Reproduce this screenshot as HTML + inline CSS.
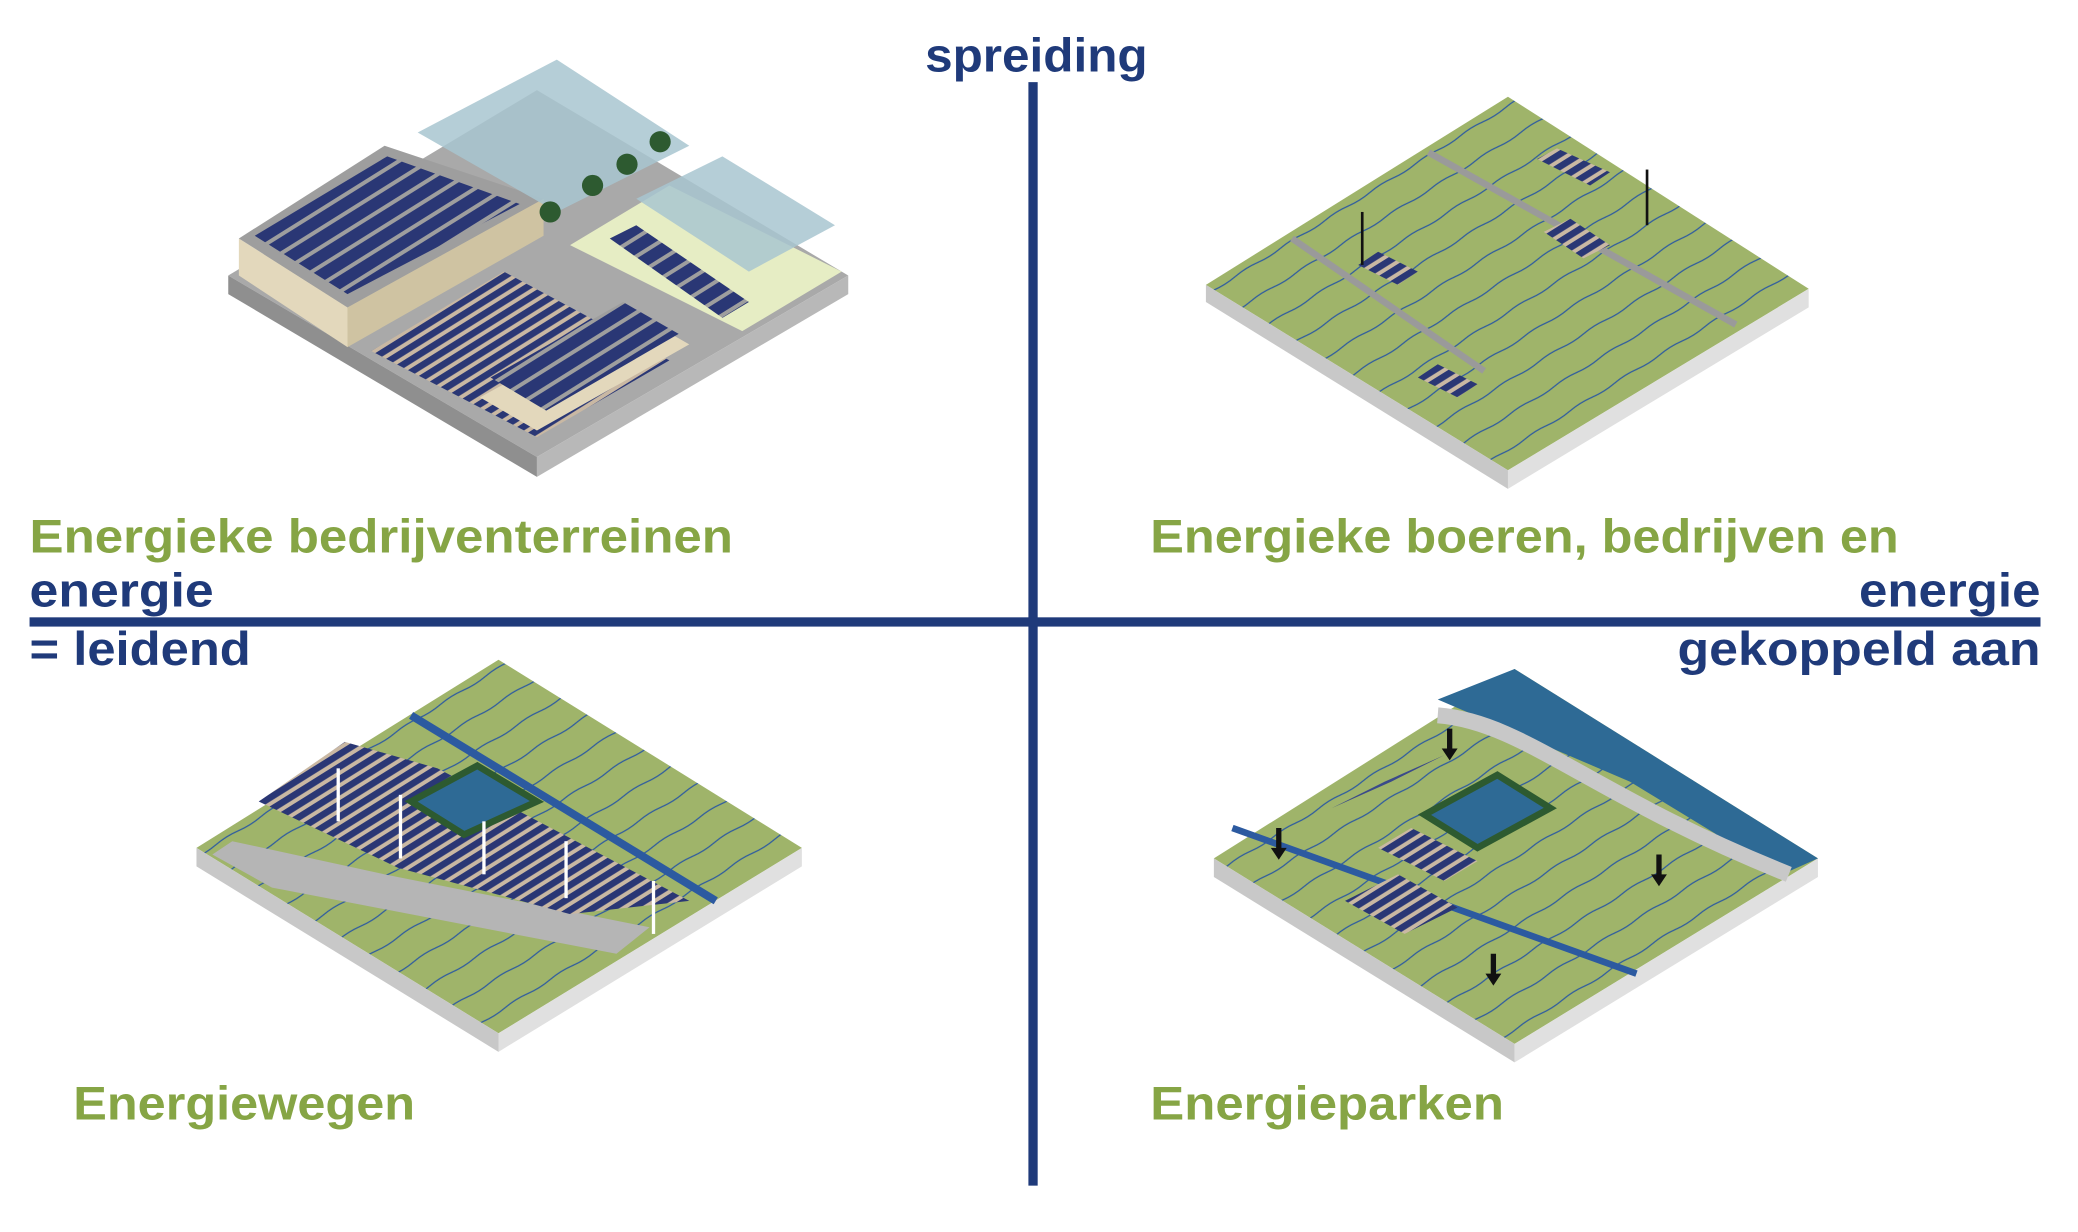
<!DOCTYPE html>
<html><head><meta charset="utf-8"><style>
html,body{margin:0;padding:0;background:#fff;}
svg{display:block}
text{font-family:"Liberation Sans",sans-serif;font-weight:bold;}
</style></head><body>
<svg width="2078" height="1232" viewBox="0 0 1568 930" xmlns="http://www.w3.org/2000/svg">
<defs>
<pattern id="fields" width="40" height="22" patternUnits="userSpaceOnUse" patternTransform="rotate(-32)">
<rect width="40" height="22" fill="#9fb46a"/>
<path d="M0 11 Q10 9.5 20 11 T40 11" stroke="#2c5aa0" stroke-width="1" fill="none"/>
</pattern>
<pattern id="solar" width="12" height="8" patternUnits="userSpaceOnUse" patternTransform="rotate(-32)">
<rect width="12" height="8" fill="#c9b8a3"/>
<rect width="12" height="5" fill="#2a3775"/>
</pattern>
<pattern id="roof" width="12" height="12" patternUnits="userSpaceOnUse" patternTransform="rotate(-32)">
<rect width="12" height="12" fill="#9e9e9e"/>
<rect width="12" height="9" fill="#2a3775"/>
</pattern>
</defs>

<rect x="776" y="62" width="7" height="833" fill="#1f3a7a"/>
<rect x="22" y="466" width="1518" height="7" fill="#1f3a7a"/>

<!-- Top-left -->
<polygon points="172,208 405,345 640,208 405,68" fill="#a9a9a9"/>
<polygon points="172,208 405,345 405,360 172,222" fill="#8f8f8f"/>
<polygon points="405,345 640,208 640,222 405,360" fill="#b8b8b8"/>
<polygon points="180,180 262,232 262,262 180,208" fill="#e3d8bc"/>
<polygon points="262,232 410,150 410,178 262,262" fill="#cfc3a2"/>
<polygon points="180,180 290,110 410,150 262,232" fill="#9e9e9e"/>
<polygon points="192,178 292,118 392,154 262,222" fill="url(#roof)"/>
<polygon points="280,265 405,330 505,272 380,205" fill="url(#solar)"/>
<polygon points="362,300 405,325 520,260 478,236" fill="#e3d8bc"/>
<polygon points="370,285 412,310 512,252 470,228" fill="url(#roof)"/>
<polygon points="315,100 420,160 520,110 420,45" fill="#a8c6d0" opacity="0.85"/>
<polygon points="430,185 560,250 635,205 505,140" fill="#e6edc4"/>
<polygon points="480,150 565,205 630,170 545,118" fill="#a8c6d0" opacity="0.85"/>
<polygon points="460,180 545,240 565,228 480,170" fill="url(#roof)"/>
<circle cx="415" cy="160" r="8" fill="#2d5a30"/><circle cx="447" cy="140" r="8" fill="#2d5a30"/>
<circle cx="473" cy="124" r="8" fill="#2d5a30"/><circle cx="498" cy="107" r="8" fill="#2d5a30"/>

<!-- Top-right -->
<polygon points="910,215 1138,355 1365,218 1138,73" fill="url(#fields)"/>
<polygon points="910,215 1138,355 1138,369 910,228" fill="#c8c8c8"/>
<polygon points="1138,355 1365,218 1365,232 1138,369" fill="#e0e0e0"/>
<path d="M975,180 L1120,280" stroke="#9a9a9a" stroke-width="5"/>
<path d="M1078,115 L1310,245" stroke="#9a9a9a" stroke-width="5"/>
<polygon points="1160,120 1200,140 1215,130 1175,112" fill="url(#solar)"/>
<polygon points="1165,175 1195,195 1215,185 1185,165" fill="url(#solar)"/>
<polygon points="1025,200 1055,215 1070,205 1040,190" fill="url(#solar)"/>
<polygon points="1070,285 1100,300 1115,290 1085,275" fill="url(#solar)"/>
<line x1="1028" y1="200" x2="1028" y2="160" stroke="#111" stroke-width="2"/>
<line x1="1243" y1="170" x2="1243" y2="128" stroke="#111" stroke-width="2"/>

<!-- Bottom-left -->
<polygon points="148,640 376,780 605,640 376,498" fill="url(#fields)"/>
<polygon points="148,640 376,780 376,794 148,654" fill="#c8c8c8"/>
<polygon points="376,780 605,640 605,654 376,794" fill="#e0e0e0"/>
<polygon points="160,645 205,670 465,720 490,700 290,660 175,635" fill="#b5b5b5"/>
<polygon points="195,605 300,655 430,690 520,680 330,580 260,560" fill="url(#solar)"/>
<path d="M310,540 L540,680" stroke="#2c5aa0" stroke-width="6"/>
<polygon points="310,605 350,630 405,605 360,578" fill="#2e6a95" stroke="#2d5a30" stroke-width="5"/>
<g stroke="#fff" stroke-width="2.5"><line x1="255" y1="580" x2="255" y2="620"/><line x1="302" y1="600" x2="302" y2="648"/><line x1="365" y1="620" x2="365" y2="660"/><line x1="427" y1="635" x2="427" y2="678"/><line x1="493" y1="665" x2="493" y2="705"/></g>

<!-- Bottom-right -->
<polygon points="916,648 1143,788 1372,648 1143,505" fill="url(#fields)"/>
<polygon points="916,648 1143,788 1143,802 916,662" fill="#c8c8c8"/>
<polygon points="1143,788 1372,648 1372,662 1143,802" fill="#e0e0e0"/>
<polygon points="1085,528 1143,505 1372,648 1345,660 1230,590" fill="#2e6a95"/>
<path d="M1085,540 C1150,545 1200,600 1350,660" stroke="#c8c8c8" stroke-width="12" fill="none"/>
<path d="M930,625 L1235,735" stroke="#2c5aa0" stroke-width="5"/>
<polygon points="1075,615 1115,640 1170,610 1130,585" fill="#2e6a95" stroke="#2d5a30" stroke-width="5"/>
<polygon points="1005,610 1045,590 1090,570 1050,590" fill="#3a4a8a"/>
<polygon points="1015,680 1060,705 1100,685 1055,660" fill="url(#solar)"/>
<polygon points="1040,640 1090,665 1115,650 1065,625" fill="url(#solar)"/>
<g fill="#111"><path d="M963,625 v15 h-4 l6,9 l6,-9 h-4 v-15z"/><path d="M1092,550 v15 h-4 l6,9 l6,-9 h-4 v-15z"/><path d="M1250,645 v15 h-4 l6,9 l6,-9 h-4 v-15z"/><path d="M1125,720 v15 h-4 l6,9 l6,-9 h-4 v-15z"/></g>

<g font-size="36">
<text x="698" y="54" textLength="168" lengthAdjust="spacingAndGlyphs" fill="#1f3a7a">spreiding</text>
<text x="22" y="417" textLength="531" lengthAdjust="spacingAndGlyphs" fill="#86a545">Energieke bedrijventerreinen</text>
<text x="868" y="417" textLength="565" lengthAdjust="spacingAndGlyphs" fill="#86a545">Energieke boeren, bedrijven en</text>
<text x="22" y="458" textLength="139" lengthAdjust="spacingAndGlyphs" fill="#1f3a7a">energie</text>
<text x="22" y="502" textLength="167" lengthAdjust="spacingAndGlyphs" fill="#1f3a7a">= leidend</text>
<text x="1403" y="458" textLength="137" lengthAdjust="spacingAndGlyphs" fill="#1f3a7a">energie</text>
<text x="1266" y="502" textLength="274" lengthAdjust="spacingAndGlyphs" fill="#1f3a7a">gekoppeld aan</text>
<text x="55" y="845" textLength="258" lengthAdjust="spacingAndGlyphs" fill="#86a545">Energiewegen</text>
<text x="868" y="845" textLength="267" lengthAdjust="spacingAndGlyphs" fill="#86a545">Energieparken</text>
</g>
</svg>
</body></html>
